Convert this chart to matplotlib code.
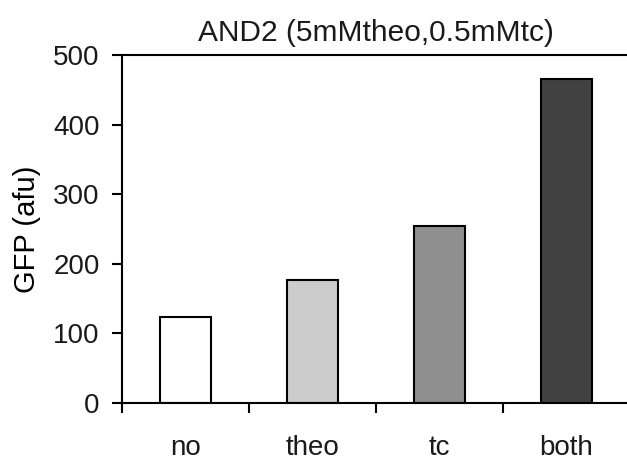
import matplotlib.pyplot as plt

categories = ["no", "theo", "tc", "both"]
gfp = [124, 177, 255, 465]
bar_colors = ["#ffffff", "#cccccc", "#8f8f8f", "#414141"]

plt.rcParams['font.family'] = ['Liberation Sans', 'DejaVu Sans']
plt.rcParams['text.color'] = '#1a1a1a'
plt.rcParams['xtick.labelcolor'] = '#1a1a1a'
plt.rcParams['ytick.labelcolor'] = '#1a1a1a'

fig = plt.figure(figsize=(6.27, 4.61), dpi=100)
ax = fig.add_axes([122/627, 1 - 403/461, 508/627, (403 - 55)/461])

x = range(len(categories))
ax.bar(x, gfp, width=0.4, color=bar_colors, edgecolor="black", linewidth=1.5)

ax.set_xlim(-0.5, 3.5)
ax.set_ylim(0, 500)
ax.set_yticks([0, 100, 200, 300, 400, 500])
# boundary ticks between the categories, labels sit in between
ax.set_xticks([-0.5, 0.5, 1.5, 2.5])
ax.set_xticklabels([])
ax.set_xticks(list(x), minor=True)
ax.set_xticklabels(categories, minor=True)
ax.tick_params(axis="x", which="major", direction="out", length=7, width=1.5)
ax.tick_params(axis="x", which="minor", length=0, pad=23, labelsize=20)
ax.tick_params(axis="y", direction="out", length=7, width=1.5, labelsize=20, pad=9)

ax.spines["right"].set_visible(False)
for s in ["left", "bottom", "top"]:
    ax.spines[s].set_linewidth(1.5)

ax.set_ylabel("GFP (afu)", fontsize=21, labelpad=9)
ax.set_title("AND2 (5mMtheo,0.5mMtc)", fontsize=21.5, pad=10)

fig.savefig("out.png", dpi=100)
